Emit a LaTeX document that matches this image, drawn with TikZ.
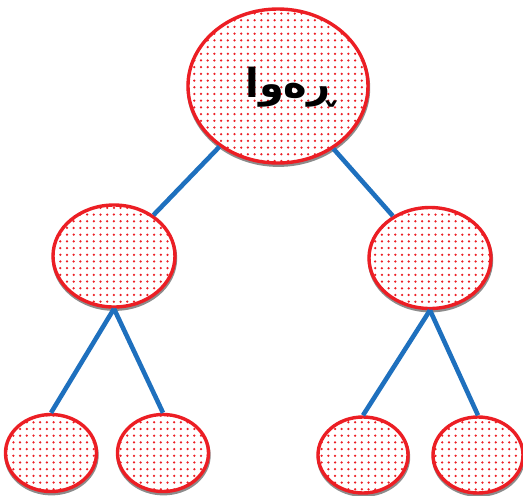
\documentclass[tikz,border=0pt]{standalone}
\usepackage{fontspec}
\newfontfamily\arabicfont[Script=Arabic]{DejaVu Sans}
\TeXXeTstate=1
\usetikzlibrary{shapes.geometric,patterns.meta}
\definecolor{rouge}{RGB}{236,30,36}
\definecolor{bleu}{RGB}{30,112,190}
\tikzset{
  bulle/.style={ellipse, draw=rouge, line width=3.4pt, inner sep=0pt,
    preaction={draw=black!45, line width=3.4pt, transform canvas={xshift=0.5pt, yshift=-2.2pt}},
    preaction={fill=white},
    pattern={Dots[distance=6.7pt, radius=1.25pt]}, pattern color=rouge},
  branche/.style={bleu, line width=4.6pt}
}
\begin{document}
\begin{tikzpicture}[x=1pt, y=-1pt]
  \useasboundingbox (0,0) rectangle (523,496);

  % racine
  \node[bulle, minimum width=180pt, minimum height=154pt] (racine) at (278,86) {};
  \node[font=\arabicfont\bfseries\fontsize{40}{40}\selectfont] (mot) at (290,87) {\beginR ڕەوا\endR};

  % niveau 1
  \node[bulle, minimum width=122pt, minimum height=102pt] (g) at (114,256) {};
  \node[bulle, minimum width=122pt, minimum height=101pt] (d) at (430,258) {};

  % niveau 2
  \node[bulle, minimum width=91pt, minimum height=77pt] (gg) at (51,453) {};
  \node[bulle, minimum width=91pt, minimum height=77pt] (gd) at (163,453) {};
  \node[bulle, minimum width=90pt, minimum height=76pt] (dg) at (363,455) {};
  \node[bulle, minimum width=90pt, minimum height=76pt] (dd) at (478,455) {};

  % branches
  \draw[branche] (racine) -- (g);
  \draw[branche] (racine) -- (d);
  \draw[branche] (g.south) -- (gg.north);
  \draw[branche] (g.south) -- (gd.north);
  \draw[branche] (d.south) -- (dg.north);
  \draw[branche] (d.south) -- (dd.north);
\end{tikzpicture}
\end{document}
